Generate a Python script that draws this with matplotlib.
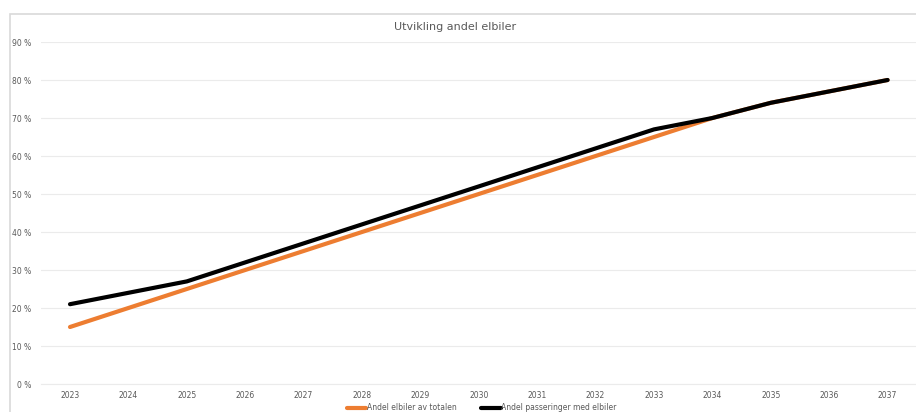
import numpy as np
import matplotlib.pyplot as plt
from matplotlib.patches import Rectangle

years = [str(y) for y in range(2023, 2038)]
andel_totalen = [15, 20, 25, 30, 35, 40, 45, 50, 55, 60, 65, 70, 74, 77, 80]
andel_passeringer = [21, 24, 27, 32, 37, 42, 47, 52, 57, 62, 67, 70, 74, 77, 80]
yticks = list(range(0, 100, 10))

fig = plt.figure(figsize=(9.16, 4.12), dpi=100)
fig.patches.append(Rectangle((10/916, -0.1), 1.0, 1 - 14/412 + 0.1,
                             transform=fig.transFigure, fill=False,
                             edgecolor='#d9d9d9', linewidth=1.2))

ax = fig.add_axes([40.8/916, 28/412, 876/916, 342/412])
x = np.arange(len(years))
ax.plot(x, andel_totalen, color='#ed7d31', linewidth=3, solid_capstyle='round',
        label='Andel elbiler av totalen')
ax.plot(x, andel_passeringer, color='black', linewidth=3, solid_capstyle='round',
        label='Andel passeringer med elbiler')

ax.set_xlim(-0.5, len(years) - 0.5)
ax.set_ylim(0, 90)
ax.set_xticks(x)
ax.set_xticklabels(years)
ax.set_yticks(yticks)
ax.set_yticklabels(['%d %%' % v for v in yticks])
ax.tick_params(length=0, labelsize=5.5, labelcolor='#595959')
ax.tick_params(axis='x', pad=5)
ax.tick_params(axis='y', pad=7)
ax.grid(axis='y', color='#ebebeb', linewidth=0.8)
ax.set_axisbelow(True)
for s in ax.spines.values():
    s.set_visible(False)
ax.spines['bottom'].set_visible(True)
ax.spines['bottom'].set_color('#ebebeb')

fig.text(455/916, 1 - 27/412, 'Utvikling andel elbiler', ha='center', va='center',
         fontsize=8, color='#595959')
fig.legend(loc='center', bbox_to_anchor=(482/916, 4/412), ncol=2, frameon=False,
           fontsize=5.5, labelcolor='#595959', handlelength=2.5, handletextpad=0.1,
           columnspacing=3.2, borderpad=0)

fig.savefig('out.png', dpi=100)
